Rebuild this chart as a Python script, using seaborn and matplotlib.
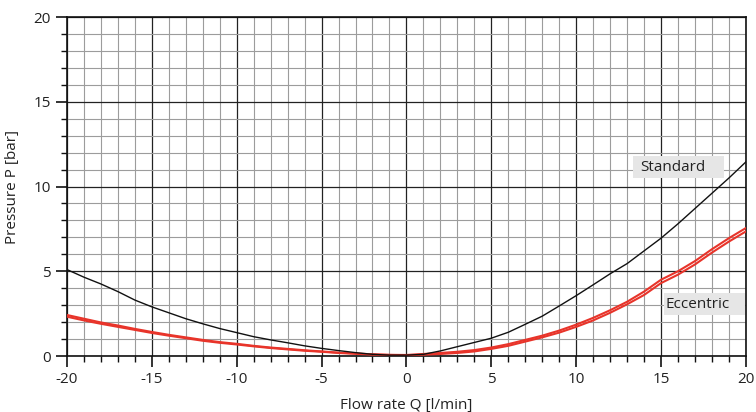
import numpy as np
import pandas as pd
import matplotlib
matplotlib.use("Agg")
import matplotlib.pyplot as plt
import seaborn as sns
from matplotlib.ticker import MultipleLocator
from matplotlib.patches import Rectangle

# Standard (black) curve
std_q = [-20, -19, -18, -17, -16, -15, -14, -13, -12, -11, -10, -9, -8, -7, -6, -5, -4, -3, -2, -1, 0, 1, 2, 3, 4, 5, 6, 7, 8, 9, 10, 11, 12, 13, 14, 15, 16, 17, 18, 19, 20]
std_p = [5.1, 4.65, 4.25, 3.8, 3.3, 2.9, 2.55, 2.2, 1.9, 1.62, 1.38, 1.14, 0.95, 0.78, 0.6, 0.45, 0.32, 0.2, 0.1, 0.05, 0.05, 0.1, 0.3, 0.55, 0.8, 1.05, 1.4, 1.87, 2.35, 2.95, 3.56, 4.2, 4.85, 5.45, 6.2, 6.95, 7.8, 8.7, 9.6, 10.5, 11.45]

# Eccentric (red) curve - two hysteresis branches
ecc_q = [-20, -19, -18, -17, -16, -15, -14, -13, -12, -11, -10, -9, -8, -7, -6, -5, -4, -3, -2, -1, 0, 1, 2, 3, 4, 5, 6, 7, 8, 9, 10, 11, 12, 13, 14, 15, 16, 17, 18, 19, 20]
ecc_up = [2.42, 2.2, 1.98, 1.8, 1.6, 1.42, 1.25, 1.1, 0.95, 0.82, 0.72, 0.6, 0.5, 0.42, 0.34, 0.27, 0.2, 0.15, 0.1, 0.07, 0.06, 0.12, 0.18, 0.25, 0.35, 0.5, 0.7, 0.95, 1.2, 1.5, 1.85, 2.25, 2.7, 3.2, 3.8, 4.5, 5.0, 5.6, 6.3, 6.95, 7.55]
ecc_dn = [2.32, 2.1, 1.9, 1.72, 1.54, 1.36, 1.2, 1.05, 0.9, 0.78, 0.68, 0.57, 0.47, 0.39, 0.31, 0.25, 0.18, 0.13, 0.09, 0.06, 0.05, 0.08, 0.12, 0.18, 0.27, 0.42, 0.6, 0.85, 1.1, 1.38, 1.72, 2.1, 2.55, 3.05, 3.6, 4.3, 4.8, 5.4, 6.1, 6.75, 7.35]

plt.rcParams['font.family'] = ['Open Sans', 'DejaVu Sans']
plt.rcParams['axes.unicode_minus'] = False

fig = plt.figure(figsize=(7.56, 4.12), dpi=100)
ax = fig.add_axes([0.0886, 0.1359, 0.898, 0.8228])

df_std = pd.DataFrame({"Q": std_q, "P": std_p})
df_up = pd.DataFrame({"Q": ecc_q, "P": ecc_up})
df_dn = pd.DataFrame({"Q": ecc_q, "P": ecc_dn})

sns.lineplot(data=df_up, x="Q", y="P", ax=ax, color="#e8342a", lw=1.5, zorder=4)
sns.lineplot(data=df_dn, x="Q", y="P", ax=ax, color="#e8342a", lw=1.5, zorder=4)
sns.lineplot(data=df_std, x="Q", y="P", ax=ax, color="#111111", lw=1.0, zorder=5)

ax.set_xlim(-20, 20)
ax.set_ylim(0, 20)
ax.xaxis.set_major_locator(MultipleLocator(5))
ax.yaxis.set_major_locator(MultipleLocator(5))
ax.xaxis.set_minor_locator(MultipleLocator(1))
ax.yaxis.set_minor_locator(MultipleLocator(1))
ax.grid(which="minor", color="#9c9c9c", lw=0.8)
ax.grid(which="major", color="#222222", lw=0.9)
ax.set_axisbelow(True)
ax.tick_params(which="major", direction="out", length=8, width=1.2, color="#111111", labelsize=11, labelcolor="#222222")
ax.tick_params(which="minor", direction="out", length=4.5, width=1.0, color="#111111")
for s in ax.spines.values():
    s.set_color("#111111")
    s.set_linewidth(1.2)

ax.set_xlabel("Flow rate Q [l/min]", fontsize=11, color="#222222", labelpad=8)
ax.set_ylabel("Pressure P [bar]", fontsize=11, color="#222222", labelpad=10)

ax.add_patch(Rectangle((13.33, 10.48), 5.36, 1.34, fc="#e6e6e6", ec="none", zorder=6))
ax.add_patch(Rectangle((15.16, 2.42), 4.77, 1.28, fc="#e6e6e6", ec="none", zorder=6))
ax.text(13.75, 11.15, "Standard", fontsize=11, color="#222222", va="center", ha="left", zorder=7)
ax.text(15.25, 3.06, "Eccentric", fontsize=11, color="#222222", va="center", ha="left", zorder=7)

fig.savefig("out.png", dpi=100)
